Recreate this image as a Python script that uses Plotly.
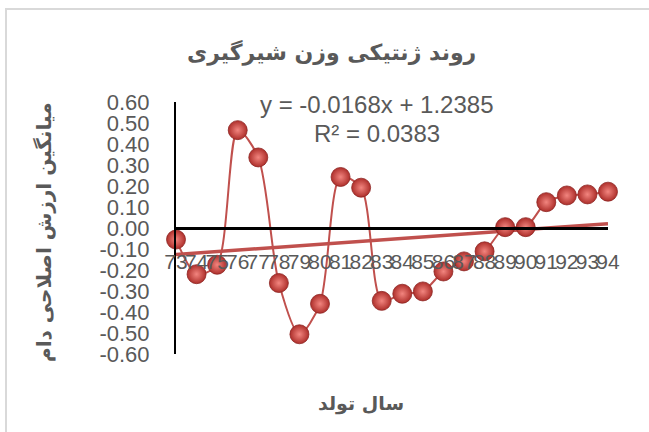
import numpy as np
import plotly.graph_objects as go

years = [73, 74, 75, 76, 77, 78, 79, 80, 81, 82, 83, 84, 85, 86, 87, 88, 89, 90, 91, 92, 93, 94]
values = [-0.055, -0.22, -0.175, 0.466, 0.336, -0.262, -0.506, -0.361, 0.243, 0.192,
          -0.347, -0.313, -0.302, -0.207, -0.159, -0.111, 0.004, 0.004, 0.123, 0.155, 0.160, 0.173]
y_ticks = [0.6, 0.5, 0.4, 0.3, 0.2, 0.1, 0.0, -0.1, -0.2, -0.3, -0.4, -0.5, -0.6]
title_text = "روند ژنتیکی وزن شیرگیری"
x_title = "سال تولد"
y_title = "میانگین ارزش اصلاحی دام"
eq_text = "y = -0.0168x + 1.2385"
r2_text = "R² = 0.0383"

slope, intercept = np.polyfit(np.array(years, float), np.array(values), 1)
trend = [slope * yr + intercept for yr in (years[0], years[-1])]

RED = "#C0504D"
GRAY = "#595959"

fig = go.Figure()
fig.add_trace(go.Scatter(
    x=[years[0], years[-1]], y=trend, mode="lines",
    line=dict(color=RED, width=3.5), hoverinfo="skip", cliponaxis=False))
fig.add_trace(go.Scatter(
    x=years, y=values, mode="lines+markers",
    line=dict(color=RED, width=2, shape="spline", smoothing=0.8),
    marker=dict(size=19, color="#AE2F2B",
                gradient=dict(type="radial", color="#F2857F"),
                line=dict(color="#8E2724", width=0.8)),
    cliponaxis=False))

fig.update_layout(
    width=649, height=432,
    margin=dict(l=176, r=41, t=102, b=78),
    paper_bgcolor="white", plot_bgcolor="white",
    showlegend=False,
    font=dict(family="Liberation Sans, Arial, sans-serif", color=GRAY),
    xaxis=dict(range=[years[0], years[-1]], tickmode="array", tickvals=years,
               ticktext=[str(v) for v in years],
               anchor="free", position=0.5,
               showline=True, linecolor="black", linewidth=3,
               showgrid=False, zeroline=False, ticks="", tickangle=0,
               ticklabelstandoff=14, automargin=False,
               tickfont=dict(size=21, color=GRAY)),
    yaxis=dict(range=[-0.6, 0.6], tickmode="array", tickvals=y_ticks,
               ticktext=[f"{v:.2f}" for v in y_ticks],
               showline=True, linecolor="black", linewidth=2,
               showgrid=False, zeroline=False, ticks="",
               ticklabelstandoff=20, automargin=False,
               tickfont=dict(size=22, color=GRAY)),
)

fig.add_annotation(text=title_text, xref="paper", yref="paper", x=(331.5 - 176) / 432,
                   y=(432 - 52 - 78) / 252, showarrow=False, xanchor="center", yanchor="middle",
                   font=dict(family="DejaVu Sans", size=22, color=GRAY, weight="bold"))
fig.add_annotation(text=x_title, xref="paper", yref="paper", x=(361 - 176) / 432,
                   y=(432 - 403 - 78) / 252, showarrow=False, xanchor="center", yanchor="middle",
                   font=dict(family="DejaVu Sans", size=19, color=GRAY, weight="bold"))
fig.add_annotation(text=y_title, xref="paper", yref="paper", x=(44 - 176) / 432,
                   y=(432 - 232 - 78) / 252, showarrow=False, xanchor="center", yanchor="middle",
                   textangle=-90,
                   font=dict(family="DejaVu Sans", size=20, color=GRAY, weight="bold"))
fig.add_annotation(text=eq_text, xref="paper", yref="paper", x=(377 - 176) / 432,
                   y=(432 - 105 - 78) / 252, showarrow=False, xanchor="center", yanchor="middle",
                   font=dict(size=24, color=GRAY))
fig.add_annotation(text=r2_text, xref="paper", yref="paper", x=(377 - 176) / 432,
                   y=(432 - 133 - 78) / 252, showarrow=False, xanchor="center", yanchor="middle",
                   font=dict(size=24, color=GRAY))

# chart-area border
fig.add_shape(type="rect", xref="paper", yref="paper", layer="below",
              x0=(6 - 176) / 432, x1=(660 - 176) / 432,
              y0=(432 - 445 - 78) / 252, y1=(432 - 9 - 78) / 252,
              line=dict(color="#D9D9D9", width=2), fillcolor="rgba(0,0,0,0)")

fig.write_html("out.html", config={"displayModeBar": False},
               post_script="document.body.style.margin='0';document.body.style.overflow='hidden';")
